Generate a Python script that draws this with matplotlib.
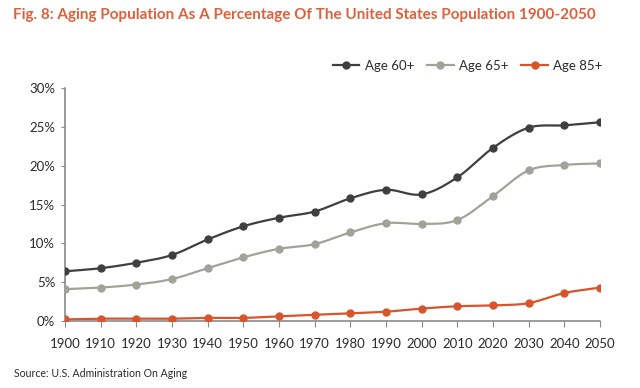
import numpy as np
import matplotlib.pyplot as plt
from matplotlib.ticker import FuncFormatter

years = [1900, 1910, 1920, 1930, 1940, 1950, 1960, 1970, 1980, 1990,
         2000, 2010, 2020, 2030, 2040, 2050]
age_60 = [6.4, 6.8, 7.5, 8.5, 10.5, 12.2, 13.3, 14.1, 15.8, 16.9,
          16.3, 18.5, 22.3, 24.9, 25.2, 25.6]
age_65 = [4.1, 4.3, 4.7, 5.4, 6.8, 8.2, 9.3, 9.9, 11.4, 12.6,
          12.5, 13.0, 16.1, 19.4, 20.1, 20.3]
age_85 = [0.2, 0.3, 0.3, 0.3, 0.4, 0.4, 0.6, 0.8, 1.0, 1.2,
          1.6, 1.9, 2.0, 2.3, 3.6, 4.3]
labels = ['Age 60+', 'Age 65+', 'Age 85+']
colors = ['#3f3f42', '#a2a29a', '#d9532b']

plt.rcParams['font.family'] = ['Lato', 'DejaVu Sans']


def smooth(x, y, n=20):
    # catmull-rom path through the points, for Excel-like smoothed lines
    x = np.asarray(x, float)
    y = np.asarray(y, float)
    px = np.concatenate([[2 * x[0] - x[1]], x, [2 * x[-1] - x[-2]]])
    py = np.concatenate([[2 * y[0] - y[1]], y, [2 * y[-1] - y[-2]]])
    xs, ys = [], []
    t = np.linspace(0, 1, n, endpoint=False)
    for i in range(1, len(px) - 2):
        for p, out in ((px, xs), (py, ys)):
            p0, p1, p2, p3 = p[i - 1], p[i], p[i + 1], p[i + 2]
            out.extend(0.5 * (2 * p1 + (-p0 + p2) * t
                              + (2 * p0 - 5 * p1 + 4 * p2 - p3) * t ** 2
                              + (-p0 + 3 * p1 - 3 * p2 + p3) * t ** 3))
    xs.append(x[-1])
    ys.append(y[-1])
    return xs, ys


fig = plt.figure(figsize=(6.4, 3.88), dpi=100)
ax = fig.add_axes([0.1016, 0.1727, 0.8359, 0.6003])

for vals, lab, c in zip([age_60, age_65, age_85], labels, colors):
    sx, sy = smooth(years, vals)
    ax.plot(sx, sy, color=c, lw=1.6, zorder=2)
    ax.plot(years, vals, 'o', color=c, ms=5, zorder=3)
    ax.plot([], [], color=c, lw=1.6, marker='o', ms=5, label=lab)

ax.set_xlim(1900, 2050)
ax.set_ylim(0, 30)
ax.set_xticks(years)
ax.set_yticks(range(0, 31, 5))
ax.yaxis.set_major_formatter(FuncFormatter(lambda v, p: f'{v:.0f}%'))

for s in ['top', 'right']:
    ax.spines[s].set_visible(False)
for s in ['left', 'bottom']:
    ax.spines[s].set_color('#8a8a8a')
    ax.spines[s].set_linewidth(1.2)
ax.tick_params(axis='x', length=4, color='#8a8a8a', labelsize=9.5,
               labelcolor='#2b2b2b', pad=8)
ax.tick_params(axis='y', length=3, color='#8a8a8a', labelsize=9.5,
               labelcolor='#2b2b2b', pad=4)

fig.text(0.02, 0.962, 'Fig. 8: Aging Population As A Percentage Of The United States Population 1900-2050',
         color='#e0603a', fontsize=11.0, fontweight='bold', va='center', ha='left')
fig.text(0.022, 0.038, 'Source: U.S. Administration On Aging', color='#2b2b2b',
         fontsize=7.6, va='center', ha='left')

fig.legend(loc='center right', bbox_to_anchor=(0.96, 0.83), ncol=3, frameon=False,
           fontsize=9.5, handlelength=2.0, columnspacing=1.0, handletextpad=0.4,
           labelcolor='#2b2b2b')

fig.savefig('out.png', dpi=100)
